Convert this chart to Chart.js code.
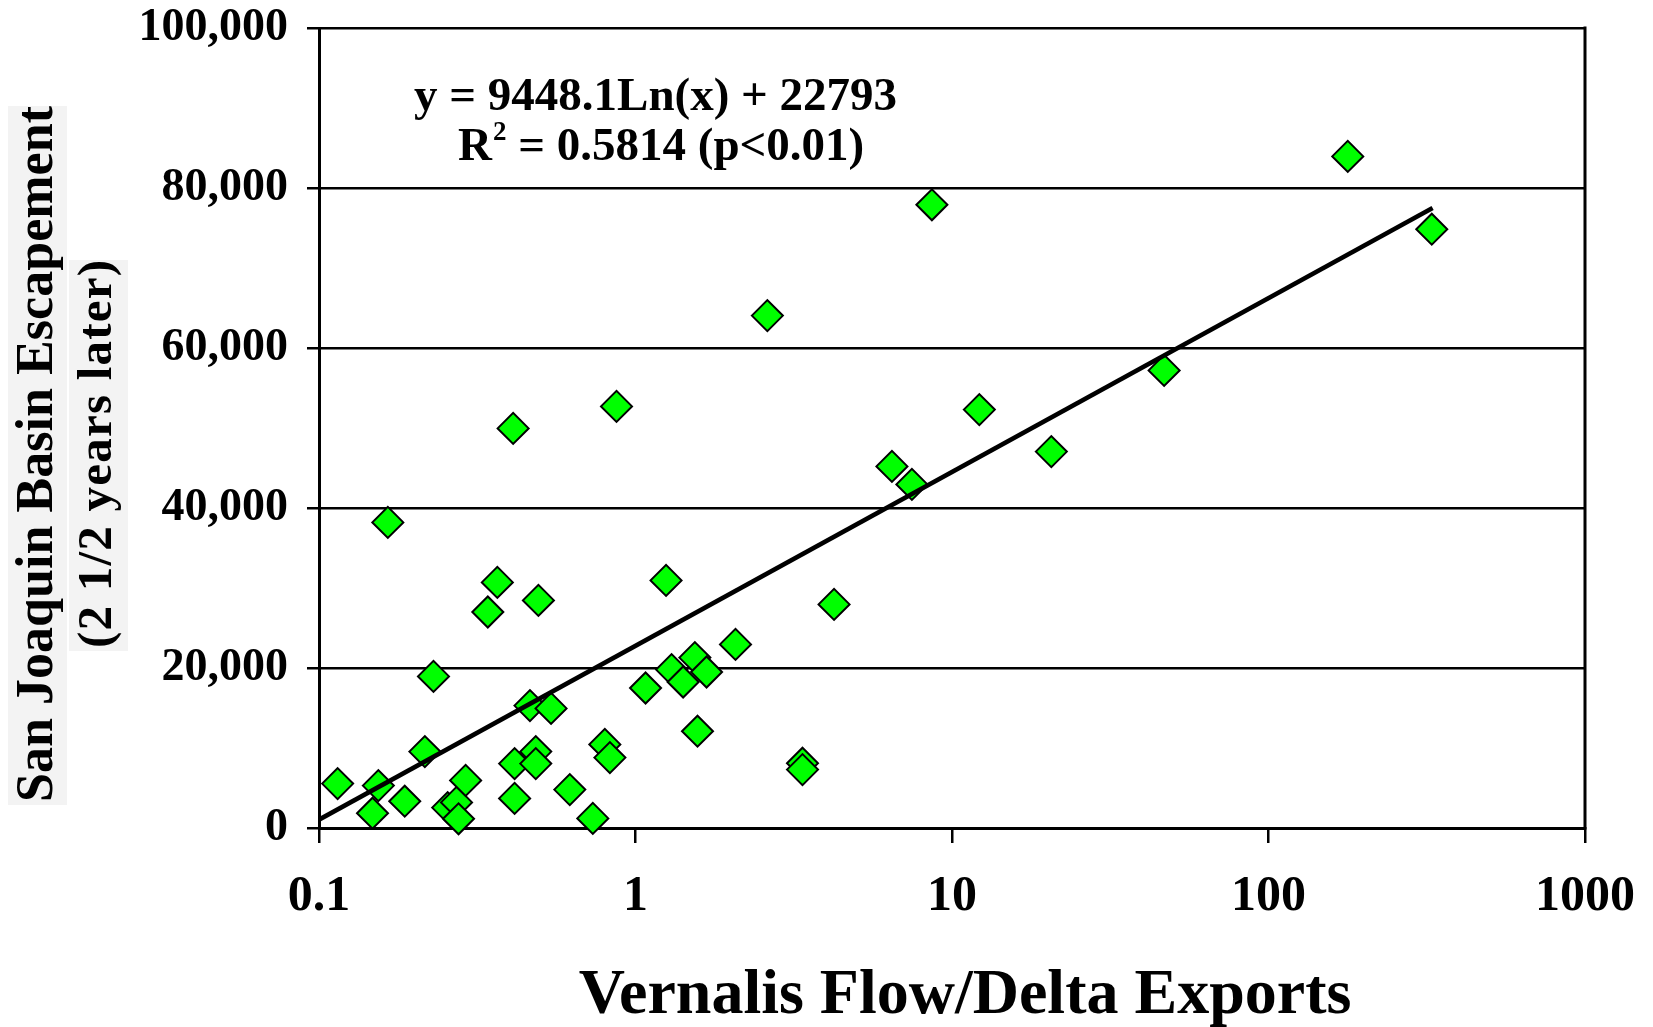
<!DOCTYPE html>
<html>
<head>
<meta charset="utf-8">
<title>Vernalis Flow / Delta Exports vs San Joaquin Escapement</title>
<script src="https://cdn.jsdelivr.net/npm/chart.js@4.4.1/dist/chart.umd.min.js"></script>
<style>
    html, body { margin: 0; padding: 0; background: #fff; }
    #wrap { width: 1653px; height: 1027px; position: relative; }
</style>
</head>
<body>
<div id="wrap"><canvas id="chart"></canvas></div>
<script>
// flow ratio (x) and escapement 2.5 years later (y)
const flowRatio = [
    0.1145, 0.1476, 0.154, 0.165, 0.1866, 0.216, 0.230, 0.255, 0.272, 0.276,
    0.2906, 0.3415, 0.366, 0.4106, 0.415, 0.415, 0.464, 0.484, 0.484, 0.4935,
    0.541, 0.620, 0.733, 0.80, 0.83, 0.871, 1.076, 1.249, 1.30, 1.414,
    1.54, 1.57, 1.677, 2.07, 2.61, 3.37, 3.37, 4.24, 6.46, 7.47,
    8.64, 12.2, 20.6, 46.8, 178, 328
];
const escapement = [
    5550, 1850, 5300, 38200, 3350, 9550, 18950, 2550, 3200, 1150,
    5950, 27000, 30700, 49950, 8050, 3700, 15300, 9550, 8050, 28450,
    14950, 4800, 1200, 10450, 8800, 52700, 17500, 30950, 19800, 18250,
    21300, 12100, 19500, 22950, 64050, 8100, 7300, 27950, 45200, 42950,
    77900, 52300, 47050, 57200, 83950, 74850
];

// log trendline end points as drawn
const trendX = [0.1, 330];
const trendY = [1040, 77500];

const xTickValues = [0.1, 1, 10, 100, 1000];
const yTickStep = 20000;

const yTitleLines = ['San Joaquin Basin Escapement', '(2 1/2 years later)'];
const xTitle = 'Vernalis Flow/Delta Exports';
const equationText = 'y = 9448.1Ln(x) + 22793';
const r2Text = ' = 0.5814 (p<0.01)';

const SERIF = "'Liberation Serif', 'Times New Roman', serif";

function drawSpaced(ctx, text, cx, baseline, span) {
    // spread the characters so the line covers the given span
    const chars = [...text];
    const widths = chars.map(ch => ctx.measureText(ch).width);
    const natural = widths.reduce((s, w) => s + w, 0);
    const gap = (span - natural) / (chars.length - 1);
    let x = cx - span / 2;
    chars.forEach((ch, i) => {
        ctx.fillText(ch, x, baseline);
        x += widths[i] + gap;
    });
}

function noPadding(scale) {
    scale.paddingTop = 0;
    scale.paddingBottom = 0;
    scale.paddingLeft = 0;
    scale.paddingRight = 0;
}

const textPlugin = {
    id: 'textPlugin',
    beforeDraw(chart) {
        const ctx = chart.ctx;
        ctx.save();
        ctx.fillStyle = '#f3f3f3';
        ctx.fillRect(8, 106, 59, 699);
        ctx.fillRect(69, 260, 59, 391);
        ctx.restore();
    },
    afterDraw(chart) {
        const ctx = chart.ctx;
        const area = chart.chartArea;
        ctx.save();

        // right frame line
        ctx.strokeStyle = '#000';
        ctx.lineWidth = 3;
        ctx.beginPath();
        ctx.moveTo(area.right, area.top - 1.5);
        ctx.lineTo(area.right, area.bottom + 1.5);
        ctx.stroke();

        ctx.fillStyle = '#000';
        ctx.textAlign = 'left';
        ctx.textBaseline = 'alphabetic';

        // y axis title, rotated
        ctx.save();
        ctx.font = 'bold 52px ' + SERIF;
        ctx.translate(52, 454);
        ctx.rotate(-Math.PI / 2);
        drawSpaced(ctx, yTitleLines[0], 0, 0, 696);
        ctx.restore();
        ctx.save();
        ctx.font = 'bold 49px ' + SERIF;
        ctx.translate(111, 454);
        ctx.rotate(-Math.PI / 2);
        drawSpaced(ctx, yTitleLines[1], 0, 0, 388);
        ctx.restore();

        // x axis title
        ctx.textAlign = 'center';
        ctx.font = 'bold 64px ' + SERIF;
        ctx.fillText(xTitle, 965, 1013);

        // regression equation
        ctx.textAlign = 'left';
        ctx.font = 'bold 47px ' + SERIF;
        ctx.fillText(equationText, 414, 110);

        let x = 458;
        ctx.fillText('R', x, 160);
        x += ctx.measureText('R').width + 1;
        ctx.font = 'bold 27px ' + SERIF;
        ctx.fillText('2', x, 140);
        x += ctx.measureText('2').width;
        ctx.font = 'bold 47px ' + SERIF;
        ctx.fillText(r2Text, x, 160);

        ctx.restore();
    }
};

const points = flowRatio.map((x, i) => ({ x: x, y: escapement[i] }));
const trend = trendX.map((x, i) => ({ x: x, y: trendY[i] }));

new Chart(document.getElementById('chart'), {
    type: 'scatter',
    data: {
        datasets: [
            {
                type: 'line',
                label: 'Trend',
                data: trend,
                borderColor: '#000',
                borderWidth: 4.5,
                pointRadius: 0,
                fill: false,
                order: 0
            },
            {
                label: 'Escapement',
                data: points,
                pointStyle: 'rectRot',
                pointRadius: 15.5,
                pointHoverRadius: 15.5,
                backgroundColor: '#00ff00',
                borderColor: '#000',
                borderWidth: 2,
                clip: false,
                order: 1
            }
        ]
    },
    options: {
        responsive: true,
        maintainAspectRatio: false,
        animation: false,
        events: [],
        layout: {
            padding: { top: 28, right: 68, bottom: 0, left: 0 }
        },
        plugins: {
            legend: { display: false },
            tooltip: { enabled: false }
        },
        scales: {
            x: {
                type: 'logarithmic',
                min: 0.1,
                max: 1000,
                afterBuildTicks: (scale) => {
                    scale.ticks = xTickValues.map(v => ({ value: v }));
                },
                afterFit: (scale) => {
                    scale.height = 199;
                    noPadding(scale);
                },
                grid: {
                    drawOnChartArea: false,
                    drawTicks: true,
                    tickLength: 15,
                    color: '#000',
                    lineWidth: 2.5
                },
                border: { display: true, color: '#000', width: 3 },
                ticks: {
                    color: '#000',
                    font: { family: SERIF, size: 50, weight: 'bold' },
                    padding: 24,
                    maxRotation: 0,
                    autoSkip: false,
                    callback: (value) => String(value)
                }
            },
            y: {
                min: 0,
                max: 100000,
                afterFit: (scale) => {
                    scale.width = 319;
                    noPadding(scale);
                },
                grid: {
                    color: '#000',
                    lineWidth: 2.5,
                    drawTicks: true,
                    tickLength: 12
                },
                border: { display: true, color: '#000', width: 3 },
                ticks: {
                    stepSize: yTickStep,
                    color: '#000',
                    font: { family: SERIF, size: 46, weight: 'bold' },
                    padding: 19,
                    callback: (value) => value.toLocaleString('en-US')
                }
            }
        }
    },
    plugins: [textPlugin]
});
</script>
</body>
</html>
